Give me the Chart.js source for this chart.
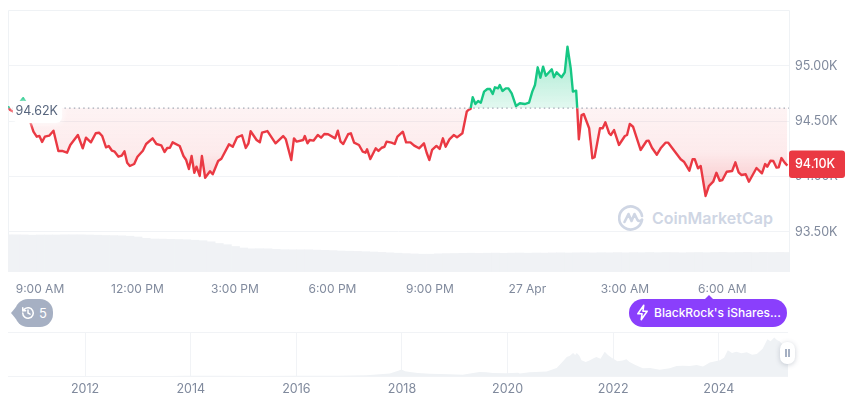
<!DOCTYPE html>
<html>
<head>
<meta charset="utf-8">
<title>Bitcoin price chart</title>
<script src="https://cdn.jsdelivr.net/npm/chart.js@4"></script>
<style>
  html, body { margin: 0; padding: 0; background: #fff; }
  #page { position: relative; width: 860px; height: 401px; overflow: hidden; font-family: Inter, sans-serif; }
  canvas { position: absolute; left: 0; }
  #mainChart { top: 0; }
  #navChart { top: 325px; }
  .watermark { position: absolute; left: 618px; top: 205px; display: flex; align-items: center; color: #CFD6E4; font-size: 16px; font-weight: 600; }
  .watermark span { margin-left: 8px; }
  .badge { position: absolute; top: 299px; height: 27.5px; display: flex; align-items: center; color: #fff; }
  .badge::before { content: ''; position: absolute; }
  .history { left: 15px; width: 38px; background: #A6B0C3; border-radius: 13px; font-size: 13px; }
  .history::before { left: -4px; top: 8px; border-top: 6px solid transparent; border-bottom: 6px solid transparent; border-right: 5px solid #A6B0C3; }
  .history svg { margin-left: 6px; }
  .history span { margin-left: 4px; }
  .news { left: 629px; width: 158px; background: #8A3FFC; border-radius: 14px; font-size: 12px; font-weight: 500; white-space: nowrap; }
  .news::before { left: 75px; top: -4px; border-left: 5px solid transparent; border-right: 5px solid transparent; border-bottom: 5px solid #8A3FFC; }
  .news svg { margin-left: 7px; flex: none; }
  .news span { margin-left: 5px; }
  .handle { position: absolute; left: 780px; top: 342px; width: 15px; height: 22px; background: #fff; border-radius: 7px; box-shadow: 0 1px 5px rgba(88,102,126,.3); }
  .handle::before { content: ''; position: absolute; left: 5px; top: 7px; width: 1.5px; height: 8px; background: #A6B0C3; box-shadow: 3px 0 0 #A6B0C3; }
</style>
</head>
<body>
<div id="page">
  <div class="watermark">
    <svg width="26" height="26" viewBox="0 0 26 26" fill="none" stroke="#CFD6E4" stroke-width="2.6" stroke-linecap="round" stroke-linejoin="round">
      <path d="M24 15a11.5 11.5 0 1 1 0-4"/>
      <path d="M6.5 17l4-8 3 7 3-7 3 6c1 1.5 3 1.5 4.5-.5"/>
    </svg>
    <span>CoinMarketCap</span>
  </div>
  <canvas id="mainChart" width="860" height="300"></canvas>
  <canvas id="navChart" width="860" height="76"></canvas>
  <div class="badge history">
    <svg width="14" height="14" viewBox="0 0 24 24" fill="none" stroke="#fff" stroke-width="2.6" stroke-linecap="round" stroke-linejoin="round">
      <path d="M3 12a9 9 0 1 0 3-6.7L3 8"/><path d="M3 3v5h5"/><path d="M12 7v5l3.5 2"/>
    </svg>
    <span>5</span>
  </div>
  <div class="badge news">
    <svg width="13" height="17" viewBox="0 0 14 20" fill="none" stroke="#fff" stroke-width="1.8" stroke-linejoin="round">
      <path d="M8.5 1.5L1.5 11.5H6.5L5.5 18.5L12.5 8.5H7.5Z"/>
    </svg>
    <span>BlackRock's iShares...</span>
  </div>
  <div class="handle"></div>
</div>
<script>
// Price history, minutes counted from 9:00 AM
const priceMinutes = [
  -59, -55, -48, -39, -31, -24, -20, -17, -12, -6, -1, 4, 9, 17, 25, 34, 41, 50, 56, 70,
  79, 85, 94, 103, 109, 115, 122, 127, 133, 138, 145, 151, 156, 161, 166, 174, 180, 190, 196, 208,
  215, 224, 230, 235, 240, 245, 258, 265, 270, 275, 280, 285, 289, 295, 299, 305, 314, 319, 329, 335,
  349, 356, 364, 373, 380, 385, 389, 400, 406, 410, 420, 435, 449, 454, 464, 469, 474, 486, 489, 494,
  498, 505, 513, 519, 525, 532, 545, 550, 555, 560, 569, 574, 580, 589, 596, 601, 604, 610, 620, 625,
  631, 636, 640, 649, 655, 660, 670, 676, 684, 691, 700, 709, 714, 719, 724, 732, 738, 744, 749, 756,
  764, 770, 780, 788, 791, 795, 799, 804, 809, 814, 820, 826, 831, 836, 840, 846, 849, 854, 860, 865,
  871, 879, 886, 895, 903, 909, 914, 919, 924, 929, 934, 945, 949, 954, 963, 969, 974, 980, 984, 990,
  992, 995, 1000, 1004, 1014, 1020, 1024, 1034, 1039, 1044, 1051, 1054, 1060, 1069, 1080, 1084, 1089, 1095, 1109, 1120,
  1124, 1130, 1139, 1146, 1155, 1160, 1183, 1189, 1199, 1205, 1209, 1215, 1220, 1229, 1235, 1243, 1249, 1255, 1260, 1268,
  1278, 1284, 1290, 1295, 1303, 1309, 1323, 1333, 1339, 1343, 1349, 1354, 1360, 1364, 1369, 1375, 1380
];
const priceValues = [
  94634, 94602, 94584, 94656, 94708, 94656, 94575, 94482, 94406, 94361, 94367, 94313, 94361, 94370, 94415, 94232, 94232, 94216, 94286, 94376,
  94256, 94352, 94310, 94392, 94397, 94367, 94265, 94277, 94234, 94225, 94180, 94189, 94229, 94126, 94096, 94114, 94180, 94234, 94295, 94346,
  94295, 94283, 94223, 94259, 94261, 94310, 94277, 94186, 94150, 94069, 94186, 94035, 94090, 94006, 94186, 93990, 94048, 94021, 94141, 94162,
  94292, 94270, 94355, 94374, 94259, 94301, 94410, 94331, 94310, 94397, 94412, 94301, 94367, 94337, 94150, 94346, 94316, 94331, 94367, 94301,
  94331, 94325, 94376, 94352, 94385, 94383, 94346, 94415, 94316, 94295, 94383, 94392, 94307, 94286, 94225, 94216, 94247, 94159, 94256, 94232,
  94261, 94270, 94316, 94307, 94295, 94361, 94406, 94310, 94310, 94280, 94256, 94301, 94216, 94150, 94241, 94277, 94250, 94346, 94270, 94337,
  94376, 94355, 94392, 94587, 94602, 94611, 94717, 94656, 94684, 94668, 94768, 94792, 94792, 94747, 94807, 94798, 94828, 94774, 94798, 94798,
  94753, 94638, 94663, 94656, 94668, 94768, 94828, 94988, 94894, 94994, 94912, 94970, 94898, 94943, 94898, 94943, 95174, 94979, 94768, 94777,
  94618, 94337, 94557, 94566, 94437, 94166, 94175, 94437, 94437, 94491, 94392, 94376, 94421, 94286, 94367, 94376, 94476, 94451, 94241, 94322,
  94325, 94261, 94198, 94256, 94307, 94307, 94157, 94135, 94054, 94157, 94157, 94075, 94096, 93825, 93915, 93954, 94035, 93963, 93969, 94044,
  94051, 94129, 94039, 94015, 94021, 93954, 94078, 94030, 94114, 94090, 94144, 94141, 94081, 94084, 94168, 94126, 94100
];
const basePrice = 94620;

// Rolling 24h volume in $B, one bar every 15 minutes from the left edge
const volumeStart = -59;
const volumeStep = 15;
const volumeValues = [
  37.2, 37.2, 37.1, 36.8, 37, 37, 37, 37.2, 37.2, 37.2, 37, 36.8, 36.5, 36.4, 36.2, 35.8, 35, 33.7, 33, 32.9,
  32.7, 32.5, 32.3, 31.8, 31.3, 30.2, 28.5, 27.3, 25.5, 24, 23.2, 23.3, 23.2, 22.7, 22.3, 22.2, 22.2, 22.2, 21.9, 21.7,
  21.4, 21, 20.8, 20.6, 20.3, 20, 19.6, 19.2, 18.8, 18.4, 18.1, 17.8, 17.8, 18.2, 18.4, 18.5, 18.7, 18.8, 18.6, 18.8,
  18.9, 18.7, 18.9, 19, 18.8, 19, 18.9, 19.1, 19.2, 19, 19.2, 19.3, 19.1, 19.3, 19.2, 19.4, 19.2, 19.4, 19.3, 19.5,
  19.3, 19.5, 19.4, 19.2, 19.4, 19.5, 19.3, 19.5, 19.6, 19.4, 19.5, 19.6, 19.4, 19.6, 19.5, 19.6, 19.5
];

const timeTicks = [0, 180, 360, 540, 720, 900, 1080, 1260];
const timeLabels = ['9:00 AM', '12:00 PM', '3:00 PM', '6:00 PM', '9:00 PM', '27 Apr', '3:00 AM', '6:00 AM'];
const priceTicks = [93500, 94000, 94500, 95000];

// Navigator: whole price history in $K
const navYears = [
  2010.54, 2011.4, 2012, 2013, 2013.6, 2013.9, 2014.5, 2015.3, 2016, 2016.8, 2017.33, 2017.77, 2017.93, 2017.99, 2018.06, 2018.15, 2018.3, 2018.53, 2018.9,
  2019.15, 2019.35, 2019.47, 2019.6, 2019.72, 2019.97, 2020.2, 2020.23, 2020.42, 2020.74, 2020.93, 2021.05, 2021.12, 2021.18, 2021.24, 2021.28, 2021.31, 2021.36, 2021.4, 2021.48, 2021.55, 2021.62, 2021.68, 2021.76, 2021.84,
  2021.9, 2021.97, 2022.08, 2022.18, 2022.25, 2022.31, 2022.42, 2022.56, 2022.7, 2022.88, 2023.07, 2023.2, 2023.32, 2023.45, 2023.58, 2023.7, 2023.83, 2024.02, 2024.1, 2024.17, 2024.25, 2024.33, 2024.43, 2024.53, 2024.63, 2024.72, 2024.83, 2024.92,
  2024.98, 2025.05, 2025.1, 2025.15, 2025.22, 2025.31
];
const navValues = [
  0, 0, 0, 0.1, 0.1, 1, 0.6, 0.3, 0.4, 0.7, 1.8, 7, 14, 18, 13, 11, 8, 6, 4.5,
  3.5, 8, 11, 10, 8.5, 7.2, 9, 7, 10, 12, 22, 40, 52, 55, 63, 57, 63, 55, 43, 38, 42, 48, 52, 47, 66,
  57, 50, 40, 42, 46, 38, 30, 21, 22, 17, 21, 27, 28, 27, 30, 26, 37, 43, 50, 70, 63, 66, 62, 65, 58, 60, 74, 100,
  95, 105, 98, 95, 84, 94
];
const navTicks = [2012, 2014, 2016, 2018, 2020, 2022, 2024];

const RED = '#EA3943';
const GREEN = '#16C784';
const GRID = '#F1F3F6';
const AXIS_TEXT = '#808A9D';
const FONT = 'Inter, sans-serif';

function formatPrice(value) {
  return (value / 1000).toFixed(2) + 'K';
}

function splitStroke(ctx) {
  const { chartArea, scales } = ctx.chart;
  if (!chartArea) return RED;
  const stop = (scales.y.getPixelForValue(basePrice) - chartArea.top) / chartArea.height;
  const gradient = ctx.chart.ctx.createLinearGradient(0, chartArea.top, 0, chartArea.bottom);
  gradient.addColorStop(0, GREEN);
  gradient.addColorStop(stop, GREEN);
  gradient.addColorStop(stop, RED);
  gradient.addColorStop(1, RED);
  return gradient;
}

function aboveFill(ctx) {
  const { chartArea, scales } = ctx.chart;
  if (!chartArea) return 'rgba(22, 199, 132, 0.15)';
  const gradient = ctx.chart.ctx.createLinearGradient(0, scales.y.getPixelForValue(95174), 0, scales.y.getPixelForValue(basePrice));
  gradient.addColorStop(0, 'rgba(22, 199, 132, 0.4)');
  gradient.addColorStop(1, 'rgba(22, 199, 132, 0.12)');
  return gradient;
}

function belowFill(ctx) {
  const { chartArea, scales } = ctx.chart;
  if (!chartArea) return 'rgba(234, 57, 67, 0.1)';
  const gradient = ctx.chart.ctx.createLinearGradient(0, scales.y.getPixelForValue(basePrice), 0, scales.y.getPixelForValue(93825));
  gradient.addColorStop(0, 'rgba(234, 57, 67, 0.06)');
  gradient.addColorStop(0.5, 'rgba(234, 57, 67, 0.1)');
  gradient.addColorStop(1, 'rgba(234, 57, 67, 0.32)');
  return gradient;
}

// Top, left and right edge of the plot
const frameLines = {
  id: 'frameLines',
  beforeDraw(chart) {
    const { ctx, chartArea: a } = chart;
    ctx.save();
    ctx.strokeStyle = '#EFF2F5';
    ctx.lineWidth = 1;
    ctx.beginPath();
    ctx.moveTo(a.left + 0.5, a.bottom);
    ctx.lineTo(a.left + 0.5, a.top + 0.5);
    ctx.lineTo(a.right + 0.5, a.top + 0.5);
    ctx.lineTo(a.right + 0.5, a.bottom);
    ctx.stroke();
    ctx.restore();
  }
};

// Base price pill on the left, last price tag on the right
const priceTags = {
  id: 'priceTags',
  afterDatasetsDraw(chart) {
    const { ctx, chartArea: a, scales } = chart;
    const baseY = scales.y.getPixelForValue(basePrice);
    const lastPrice = priceValues[priceValues.length - 1];
    const lastY = scales.y.getPixelForValue(lastPrice);

    ctx.save();
    ctx.font = '12.5px ' + FONT;
    ctx.textBaseline = 'middle';

    ctx.save();
    ctx.fillStyle = '#fff';
    ctx.shadowColor = 'rgba(255, 255, 255, 0.95)';
    ctx.shadowBlur = 6;
    ctx.beginPath();
    ctx.roundRect(a.left + 5, baseY - 7, 49, 22, 6);
    ctx.fill();
    ctx.restore();
    ctx.fillStyle = '#58667E';
    ctx.fillText(formatPrice(basePrice), a.left + 7.5, baseY + 3);

    ctx.fillStyle = RED;
    ctx.beginPath();
    ctx.roundRect(a.right, lastY - 15, 56, 27.5, 3);
    ctx.fill();
    ctx.fillStyle = '#fff';
    ctx.font = '500 12.5px ' + FONT;
    ctx.fillText(formatPrice(lastPrice), a.right + 6, lastY - 1);
    ctx.restore();
  }
};

new Chart(document.getElementById('mainChart'), {
  data: {
    datasets: [
      {
        type: 'line',
        data: priceMinutes.map((m, i) => ({ x: m, y: priceValues[i] })),
        yAxisID: 'y',
        borderColor: splitStroke,
        borderWidth: 2.4,
        borderJoinStyle: 'round',
        pointRadius: 0,
        tension: 0,
        fill: { target: { value: basePrice }, above: aboveFill, below: belowFill },
        order: 1
      },
      {
        type: 'line',
        data: [{ x: priceMinutes[0], y: basePrice }, { x: 1383, y: basePrice }],
        yAxisID: 'y',
        borderColor: '#A3A9B5',
        borderWidth: 1.2,
        borderDash: [1.5, 3.2],
        pointRadius: 0,
        fill: false,
        order: 0
      },
      {
        type: 'bar',
        data: volumeValues.map((v, i) => ({ x: volumeStart + i * volumeStep, y: v })),
        yAxisID: 'volume',
        backgroundColor: '#F0F2F5',
        barPercentage: 1,
        categoryPercentage: 1,
        order: 2
      }
    ]
  },
  options: {
    responsive: false,
    animation: false,
    events: [],
    layout: { padding: { top: 10, left: 8, right: 0, bottom: 0 } },
    plugins: { legend: { display: false }, tooltip: { enabled: false } },
    scales: {
      x: {
        type: 'linear',
        offset: false,
        min: -59,
        max: 1383,
        grid: { display: false },
        border: { display: false },
        afterBuildTicks(scale) {
          scale.ticks = timeTicks.map(value => ({ value }));
        },
        afterFit(scale) {
          scale.height = 28;
        },
        ticks: {
          autoSkip: false,
          maxRotation: 0,
          padding: 2,
          color: AXIS_TEXT,
          font: { family: FONT, size: 12 },
          callback: (value) => timeLabels[timeTicks.indexOf(value)]
        }
      },
      y: {
        position: 'right',
        min: 93138,
        max: 95506,
        grid: { color: GRID, drawTicks: false },
        border: { display: false },
        afterBuildTicks(scale) {
          scale.ticks = priceTicks.map(value => ({ value }));
        },
        afterFit(scale) {
          // the tick labels must not push the plot down
          scale.width = 71;
          scale.paddingTop = 0;
          scale.paddingBottom = 0;
        },
        ticks: {
          padding: 6,
          color: AXIS_TEXT,
          font: { family: FONT, size: 12.5 },
          callback: (value) => formatPrice(value)
        }
      },
      volume: {
        display: false,
        min: 0,
        max: 262
      }
    }
  },
  plugins: [frameLines, priceTags]
});

new Chart(document.getElementById('navChart'), {
  type: 'line',
  data: {
    datasets: [{
      data: navYears.map((year, i) => ({ x: year, y: navValues[i] })),
      borderWidth: 0,
      pointRadius: 0,
      tension: 0,
      fill: 'origin',
      backgroundColor: '#EFF2F5'
    }]
  },
  options: {
    responsive: false,
    animation: false,
    events: [],
    layout: { padding: { top: 7, left: 8, right: 0, bottom: 0 } },
    plugins: { legend: { display: false }, tooltip: { enabled: false } },
    scales: {
      x: {
        type: 'linear',
        min: 2010.54,
        max: 2025.31,
        grid: { color: GRID, drawTicks: false },
        border: { display: false },
        afterBuildTicks(scale) {
          scale.ticks = navTicks.map(value => ({ value }));
        },
        afterFit(scale) {
          scale.height = 25;
        },
        ticks: {
          autoSkip: false,
          maxRotation: 0,
          padding: 6,
          color: AXIS_TEXT,
          font: { family: FONT, size: 12.5 },
          callback: (value) => String(value)
        }
      },
      y: {
        min: 0,
        max: 120,
        position: 'right',
        grid: { color: GRID, drawTicks: false },
        border: { display: false },
        afterBuildTicks(scale) {
          scale.ticks = [{ value: 0 }, { value: 120 }];
        },
        afterFit(scale) {
          scale.width = 72;
        },
        ticks: { display: false }
      }
    }
  }
});
</script>
</body>
</html>
